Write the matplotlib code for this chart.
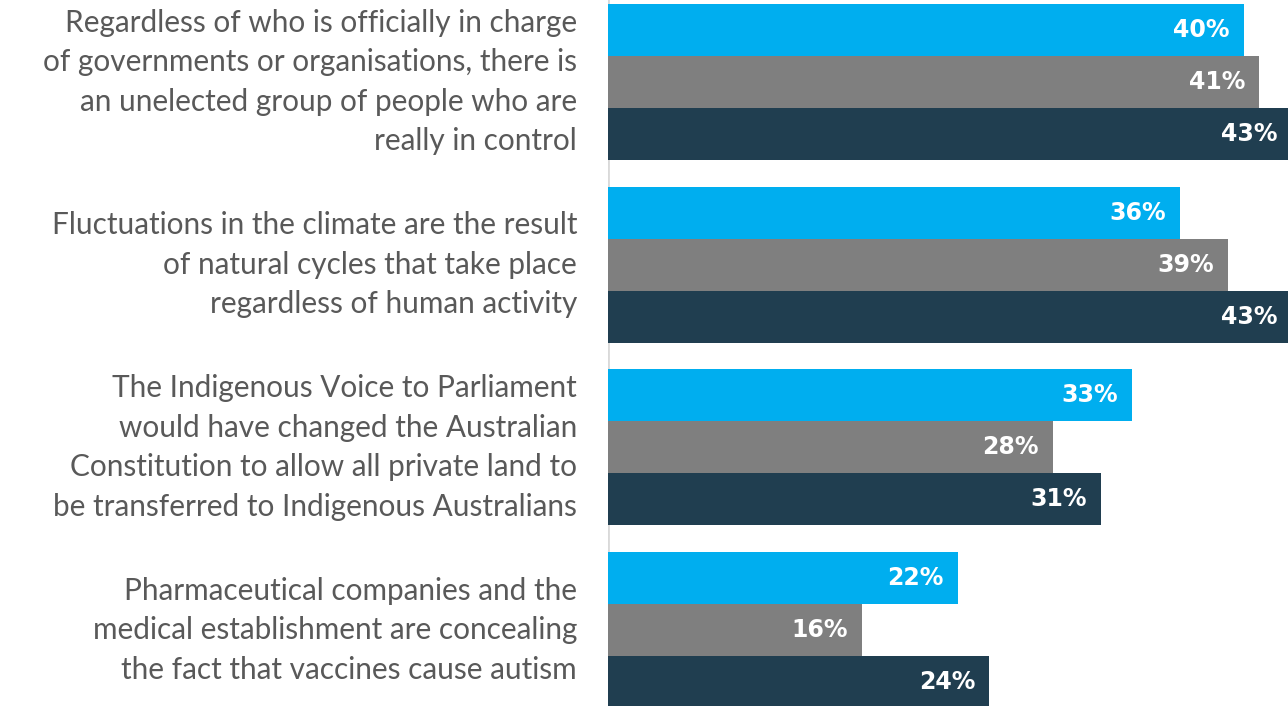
import matplotlib

matplotlib.use("Agg")
import matplotlib.pyplot as plt
import numpy as np


STATEMENTS = [
    "Regardless of who is officially in charge\nof governments or organisations, there is\nan unelected group of people who are\nreally in control",
    "Fluctuations in the climate are the result\nof natural cycles that take place\nregardless of human activity",
    "The Indigenous Voice to Parliament\nwould have changed the Australian\nConstitution to allow all private land to\nbe transferred to Indigenous Australians",
    "Pharmaceutical companies and the\nmedical establishment are concealing\nthe fact that vaccines cause autism",
]
SERIES_A = [40, 36, 33, 22]
SERIES_B = [41, 39, 28, 16]
SERIES_C = [43, 43, 31, 24]

COLORS = ["#00AEEF", "#7F7F7F", "#203E50"]
BAR_H = 0.2846


def main() -> None:
    fig = plt.figure(figsize=(12.88, 7.06), dpi=100)
    ax = fig.add_axes([608 / 1288, 0.0, 1 - 608 / 1288, 1.0])
    y = np.arange(len(STATEMENTS))

    for offset, values, color in zip((-BAR_H, 0.0, BAR_H), (SERIES_A, SERIES_B, SERIES_C), COLORS):
        ax.barh(y + offset, values, height=BAR_H, color=color, linewidth=0)
        for yy, v in zip(y + offset, values):
            ax.annotate(
                f"{v}%",
                xy=(v, yy),
                xytext=(-14, 0),
                textcoords="offset pixels",
                ha="right",
                va="center",
                color="white",
                fontsize=17,
                fontweight="bold",
                family="DejaVu Sans",
                annotation_clip=False,
            )

    for yy, text in zip(y, STATEMENTS):
        ax.annotate(
            text,
            xy=(0, yy),
            xytext=(-31, 0),
            textcoords="offset pixels",
            ha="right",
            va="center",
            multialignment="right",
            fontsize=21.4,
            linespacing=1.5,
            color="#595959",
            family="Lato",
            annotation_clip=False,
        )

    ax.set_xlim(0, 42.8)
    ax.set_ylim(3.416, -0.449)
    ax.axvline(0, color="#D9D9D9", linewidth=2.0, zorder=0)
    for side in ("top", "right", "bottom", "left"):
        ax.spines[side].set_visible(False)
    ax.set_xticks([])
    ax.set_yticks([])
    fig.savefig("out.png", dpi=100)
    plt.close(fig)


if __name__ == "__main__":
    main()
